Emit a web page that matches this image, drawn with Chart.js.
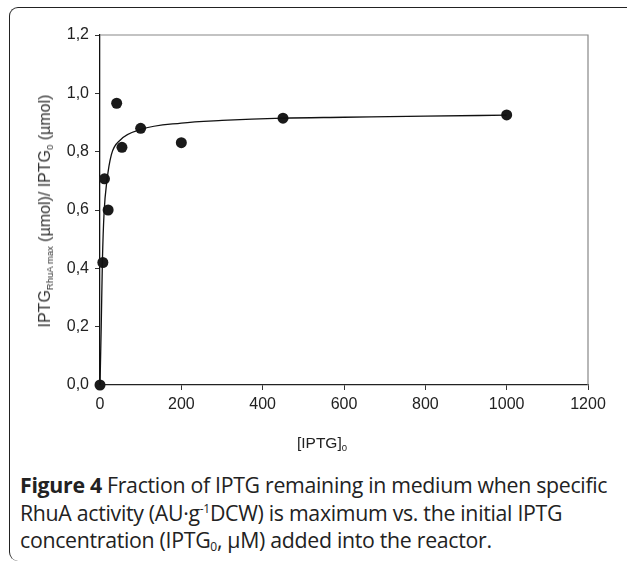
<!DOCTYPE html>
<html>
<head>
<meta charset="utf-8">
<script src="https://cdn.jsdelivr.net/npm/chart.js@4/dist/chart.umd.min.js"></script>
<style>
    body { margin: 0; background: #fff; width: 627px; height: 564px; position: relative; overflow: hidden; }
    .frame {
        position: absolute; left: 9px; top: 7px; width: 640px; height: 553px;
        border-left: 1.6px solid #222; border-top: 1.6px solid #222;
        border-top-left-radius: 9px; border-bottom-left-radius: 9px;
    }
    #chartBox { position: absolute; left: 0; top: 0; width: 627px; height: 440px; }
    .ytitle {
        position: absolute; left: 45px; top: 211px; white-space: nowrap;
        font-family: "Liberation Sans", Arial, sans-serif; font-size: 16px; font-weight: 400; color: #333;
        transform: translate(-50%, -50%) rotate(-90deg);
    }
    .xtitle {
        position: absolute; left: 322px; top: 443px; white-space: nowrap;
        font-family: "Liberation Sans", Arial, sans-serif; font-size: 15.5px; color: #222;
        transform: translate(-50%, -50%);
    }
    sub { font-size: 9.5px; vertical-align: -3px; line-height: 0; }
    .caption {
        position: absolute; left: 20px; top: 471px; width: 615px;
        font-family: "Open Sans", sans-serif; font-size: 21.3px; line-height: 27.5px; color: #222;
        letter-spacing: -0.3px;
    }
    .caption sup { font-size: 12px; vertical-align: 8px; line-height: 0; }
    .caption sub { font-size: 12px; vertical-align: -3px; line-height: 0; }
</style>
</head>
<body>
<div class="frame"></div>
<div id="chartBox"><canvas id="fractionChart"></canvas></div>
<div class="ytitle">IPTG<sub>RhuA max</sub> (µmol)/ IPTG<sub>0</sub> (µmol)</div>
<div class="xtitle">[IPTG]<sub>0</sub></div>
<div class="caption"><b>Figure 4</b> Fraction of IPTG remaining in medium when specific<br>RhuA activity (AU·g<sup>-1</sup>DCW) is maximum vs. the initial IPTG<br>concentration (IPTG<sub>0</sub>, µM) added into the reactor.</div>

<script>
// measured points
const concX = [0, 7, 11, 20, 41, 54, 100, 200, 450, 1000];
const fractionY = [0, 0.42, 0.707, 0.60, 0.966, 0.815, 0.88, 0.831, 0.915, 0.926];

// fitted curve
const fitX = [0, 3, 6, 10, 17, 28, 50, 100, 200, 300, 450, 600, 800, 1000];
const fitY = [0, 0.20, 0.43, 0.59, 0.70, 0.79, 0.84, 0.876, 0.898, 0.907, 0.915, 0.918, 0.922, 0.925];

const xTicks = [0, 200, 400, 600, 800, 1000, 1200];
const yTicks = [0, 0.2, 0.4, 0.6, 0.8, 1.0, 1.2];

//..box round the plot area
const frameBox = {
    id: 'frameBox',
    afterDraw(chart) {
        const { ctx, chartArea: a } = chart;
        ctx.save();
        ctx.strokeStyle = '#888';
        ctx.lineWidth = 1.2;
        ctx.beginPath();
        ctx.moveTo(a.left, a.top);
        ctx.lineTo(a.right, a.top);
        ctx.lineTo(a.right, a.bottom);
        ctx.stroke();
        ctx.restore();
    }
};

const tickFont = { family: '"Liberation Sans", Arial, sans-serif', size: 16 };

new Chart(document.getElementById('fractionChart'), {
    type: 'scatter',
    data: {
        datasets: [
            {
                data: fitX.map((x, i) => ({ x: x, y: fitY[i] })),
                showLine: true,
                borderColor: '#111',
                borderWidth: 1.3,
                pointRadius: 0,
                cubicInterpolationMode: 'monotone',
                clip: false
            },
            {
                data: concX.map((x, i) => ({ x: x, y: fractionY[i] })),
                pointRadius: 5.5,
                pointBackgroundColor: '#1a1a1a',
                pointBorderColor: '#1a1a1a',
                pointBorderWidth: 0,
                clip: false
            }
        ]
    },
    options: {
        responsive: true,
        maintainAspectRatio: false,
        animation: false,
        layout: { padding: { left: 10, right: 39, top: 35, bottom: 25 } },
        plugins: { legend: { display: false }, tooltip: { enabled: false } },
        scales: {
            x: {
                type: 'linear',
                min: 0, max: 1200,
                afterFit(scale) { scale.height = 30; },
                afterBuildTicks(scale) { scale.ticks = xTicks.map(v => ({ value: v })); },
                border: { color: '#222', width: 1.3 },
                grid: { drawOnChartArea: false, tickLength: 5, color: '#333' },
                ticks: { font: tickFont, color: '#222', padding: 5, maxRotation: 0, callback: v => String(v) }
            },
            y: {
                min: 0, max: 1.2,
                afterFit(scale) { scale.width = 90; },
                afterBuildTicks(scale) { scale.ticks = yTicks.map(v => ({ value: v })); },
                border: { color: '#111', width: 1.3 },
                grid: { drawOnChartArea: false, tickLength: 5, color: '#333' },
                ticks: {
                    font: tickFont, color: '#222', padding: 6,
                    callback: v => v.toFixed(1).replace('.', ',')
                }
            }
        }
    },
    plugins: [frameBox]
});
</script>
</body>
</html>
